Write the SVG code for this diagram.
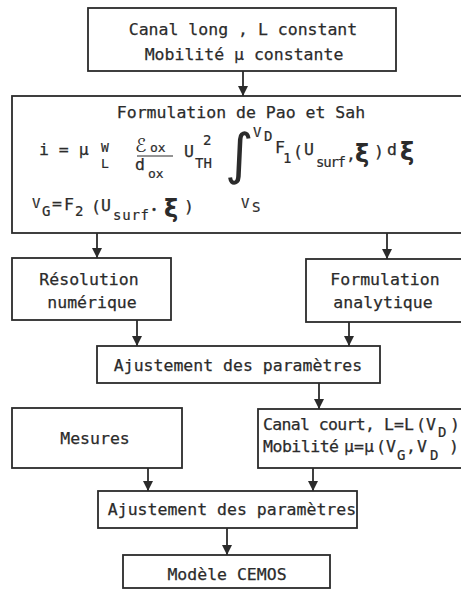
<svg xmlns="http://www.w3.org/2000/svg" width="461" height="590" viewBox="0 0 461 590">
<defs>
<style>
.box{fill:#fff;stroke:#2b2b2b;stroke-width:1.8}
.t{font-family:"DejaVu Sans Mono","Liberation Mono",monospace;font-size:16.5px;fill:#2b2b2b;stroke:#2b2b2b;stroke-width:0.25}
.s{font-family:"DejaVu Sans Mono","Liberation Mono",monospace;font-size:14px;fill:#2b2b2b;stroke:#2b2b2b;stroke-width:0.2}
.f{font-family:"DejaVu Sans Mono","Liberation Mono",monospace;font-size:13px;fill:#2b2b2b;stroke:#2b2b2b;stroke-width:0.2}
.m{font-family:"DejaVu Sans","Noto Sans",sans-serif;fill:#2b2b2b}
.x{font-family:"DejaVu Sans","Noto Sans",sans-serif;fill:#2b2b2b;font-size:24px;font-weight:bold}
.c{text-anchor:middle}
.con{stroke:#2b2b2b;stroke-width:1.8;fill:none}
</style>
<marker id="ah" viewBox="0 0 10 14" refX="10" refY="7" markerWidth="10" markerHeight="14" markerUnits="userSpaceOnUse" orient="auto">
<path d="M0,2 L10,7 L0,12 z" fill="#2b2b2b"/>
</marker>
</defs>
<rect width="461" height="590" fill="#fff"/>
<g id="connectors">
<line class="con" x1="243" y1="71" x2="243" y2="96" marker-end="url(#ah)"/>
<line class="con" x1="97" y1="233" x2="97" y2="258" marker-end="url(#ah)"/>
<line class="con" x1="387" y1="233" x2="387" y2="259" marker-end="url(#ah)"/>
<line class="con" x1="137" y1="320" x2="137" y2="346" marker-end="url(#ah)"/>
<line class="con" x1="349" y1="322" x2="349" y2="346" marker-end="url(#ah)"/>
<line class="con" x1="319" y1="383" x2="319" y2="409" marker-end="url(#ah)"/>
<line class="con" x1="148" y1="468" x2="148" y2="491" marker-end="url(#ah)"/>
<line class="con" x1="313" y1="468" x2="313" y2="491" marker-end="url(#ah)"/>
<line class="con" x1="227" y1="528" x2="227" y2="555" marker-end="url(#ah)"/>
</g>
<g id="n1">
<rect class="box" x="88" y="8" width="308" height="63"/>
<text class="t c" x="243" y="35">Canal long , L constant</text>
<text class="t c" x="244" y="60">Mobilité μ constante</text>
</g>
<g id="n2">
<rect class="box" x="12" y="96" width="460" height="137"/>
<text class="t c" x="241" y="118">Formulation de Pao et Sah</text>
<text class="t" x="39" y="155">i = μ</text>
<text class="f c" x="105" y="152">W</text>
<text class="f c" x="105" y="168">L</text>
<text class="m" x="135" y="152" font-size="19">ℰ</text>
<text class="f" x="150" y="152">ox</text>
<line x1="137" y1="156" x2="173" y2="156" stroke="#2b2b2b" stroke-width="1.2"/>
<text class="t" x="135" y="170">d</text>
<text class="f" x="148" y="178">ox</text>
<text class="t" x="184" y="157">U</text>
<text class="s" x="195" y="168">TH</text>
<text class="s" x="203" y="145">2</text>
<text class="m" x="225" y="173" font-size="55">∫</text>
<text class="s" x="253" y="137">V</text>
<text class="s" x="264" y="141">D</text>
<text class="s" x="241" y="208">V</text>
<text class="s" x="252" y="212">S</text>
<text class="t" x="275" y="153">F</text>
<text class="s" x="283" y="163">1</text>
<text class="t" x="293" y="157">(</text>
<text class="t" x="304" y="155">U</text>
<text class="s" x="316" y="167" textLength="30">surf</text>
<text class="t" x="346" y="160">,</text>
<text class="x" x="355" y="162">ξ</text>
<text class="t" x="374" y="157">)</text>
<text class="t" x="387" y="155">d</text>
<text class="x" x="400" y="160">ξ</text>
<text class="s" x="32" y="208">V</text>
<text class="s" x="42" y="216">G</text>
<text class="t" x="52" y="209">=</text>
<text class="t" x="64" y="210">F</text>
<text class="s" x="75" y="216">2</text>
<text class="t" x="91" y="212">(</text>
<text class="t" x="101" y="211">U</text>
<text class="s" x="113" y="220" textLength="36">surf</text>
<text class="t" x="151" y="213" style="font-size:10px">•</text>
<text class="x" x="164" y="217">ξ</text>
<text class="t" x="184" y="212">)</text>
</g>
<g id="n3">
<rect class="box" x="12" y="258" width="159" height="62"/>
<text class="t c" x="89" y="285">Résolution</text>
<text class="t c" x="92" y="308">numérique</text>
</g>
<g id="n4">
<rect class="box" x="306" y="259" width="166" height="63"/>
<text class="t c" x="385" y="285">Formulation</text>
<text class="t c" x="383" y="308">analytique</text>
</g>
<g id="n5">
<rect class="box" x="97" y="346" width="283" height="37"/>
<text class="t c" x="238" y="371">Ajustement des paramètres</text>
</g>
<g id="n6">
<rect class="box" x="12" y="408" width="170" height="60"/>
<text class="t c" x="95" y="444">Mesures</text>
</g>
<g id="n7">
<rect class="box" x="258" y="409" width="214" height="59"/>
<text class="t" x="263" y="430" textLength="112">Canal court,</text>
<text class="t" x="384" y="430" textLength="30">L=L</text>
<text class="t" x="416" y="430">(V</text>
<text class="s" x="438" y="437">D</text>
<text class="t" x="450" y="430">)</text>
<text class="t" x="263" y="452" textLength="76">Mobilité</text>
<text class="t" x="344" y="452" textLength="30">μ=μ</text>
<text class="t" x="376" y="452">(V</text>
<text class="s" x="397" y="460">G</text>
<text class="t" x="406" y="452">,</text>
<text class="t" x="417" y="452">V</text>
<text class="s" x="430" y="460">D</text>
<text class="t" x="449" y="452">)</text>
</g>
<g id="n8">
<rect class="box" x="98" y="491" width="259" height="37"/>
<text class="t c" x="232" y="515">Ajustement des paramètres</text>
</g>
<g id="n9">
<rect class="box" x="123" y="555" width="207" height="33"/>
<text class="t c" x="227" y="580">Modèle CEMOS</text>
</g>
</svg>
